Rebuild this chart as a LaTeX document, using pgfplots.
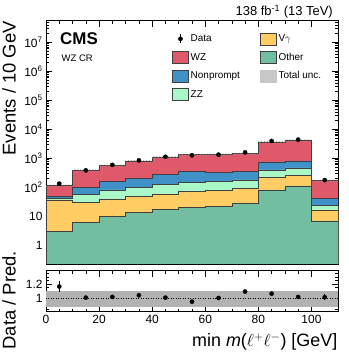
\documentclass[border=0pt]{standalone}
\usepackage{fontspec}
\setmainfont{Liberation Sans}
\usepackage{pgfplots}
\pgfplotsset{compat=1.18}
\usetikzlibrary{patterns}
\definecolor{cwz}{RGB}{224,89,106}
\definecolor{cnp}{RGB}{64,145,200}
\definecolor{czz}{RGB}{170,248,200}
\definecolor{cvg}{RGB}{255,205,100}
\definecolor{coth}{RGB}{114,190,160}
\pgfplotsset{
  boxleg/.style={legend image code/.code={\draw[##1] (0pt,-6pt) rectangle (16pt,6pt);}},
  uncleg/.style={legend image code/.code={\fill[black!22] (0pt,-6pt) rectangle (16pt,6pt);}},
  dataleg/.style={legend image code/.code={\draw[black,line width=0.6pt] (8pt,-4.5pt)--(8pt,4.5pt); \fill[black] (8pt,0pt) circle (2.1pt); \fill[white,opacity=0] (0pt,-6pt) rectangle (16pt,6pt);}},
  cmsaxis/.style={
    scale only axis, width=292bp, xmin=0, xmax=110,
    tick align=inside, xtick pos=both, ytick pos=both,
    major tick length=6bp, minor tick length=3bp,
    every tick/.style={black, line width=0.5pt},
    axis line style={line width=0.8pt},
    tick label style={font=\fontsize{12}{14}\selectfont},
    /pgf/number format/assume math mode=true,
    xtick={0,20,...,100}, minor x tick num=3,
  }
}
\begin{document}
\begin{tikzpicture}
\path[use as bounding box] (0bp,0bp) rectangle (349bp,352bp);
\begin{axis}[cmsaxis, at={(46bp,88bp)}, anchor=south west,
  height=243.3bp, ymode=log, ymin=0.226, ymax=5.56e7,
  xticklabels={},
  ytick={1,10,100,1000,10000,100000,1000000,10000000},
  yticklabels={1,10,10\textsuperscript{2},10\textsuperscript{3},10\textsuperscript{4},10\textsuperscript{5},10\textsuperscript{6},10\textsuperscript{7}},
  minor ytick={0.3,0.4,0.5,0.6,0.7,0.8,0.9,2,3,4,5,6,7,8,9,20,30,40,50,60,70,80,90,200,300,400,500,600,700,800,900,2000,3000,4000,5000,6000,7000,8000,9000,20000,30000,40000,50000,60000,70000,80000,90000,200000,300000,400000,500000,600000,700000,800000,900000,2000000,3000000,4000000,5000000,6000000,7000000,8000000,9000000,20000000,30000000,40000000,50000000},
  legend columns=2,
  legend cell align=left,
  legend style={at={(0.4315,0.952)}, anchor=north west, draw=none, fill=none,
    inner sep=0pt, row sep=6pt, font=\fontsize{10}{12}\selectfont,
    /tikz/every even column/.append style={column sep=18bp}},
]
% stacked histogram (cumulative tops)
\addplot[const plot, fill=cwz, draw=black!75, line width=0.6pt, forget plot] coordinates {(0,0.1)(0,113)(10,375)(20,580)(30,815)(40,1115)(50,1320)(60,1330)(70,1460)(80,3700)(90,4250)(100,175)(110,175)(110,0.1)};
\addplot[const plot, fill=cnp, draw=black!75, line width=0.6pt, forget plot] coordinates {(0,0.1)(0,47.5)(10,99.8)(20,160.6)(30,198.5)(40,280)(50,346)(60,320)(70,346)(80,745)(90,807)(100,40.5)(110,40.5)(110,0.1)};
\addplot[const plot, fill=czz, draw=black!75, line width=0.6pt, forget plot] coordinates {(0,0.1)(0,40.5)(10,57.2)(20,80.7)(30,99.8)(40,126.5)(50,152)(60,156)(70,178.5)(80,395)(90,463)(100,23.9)(110,23.9)(110,0.1)};
\addplot[const plot, fill=cvg, draw=black!75, line width=0.6pt, forget plot] coordinates {(0,0.1)(0,36.5)(10,30.3)(20,39.5)(30,47.5)(40,58.7)(50,72.6)(60,78.6)(70,89.7)(80,215)(90,259)(100,16.5)(110,16.5)(110,0.1)};
\addplot[const plot, fill=coth, draw=black!75, line width=0.6pt, forget plot] coordinates {(0,0.1)(0,3.1)(10,6.2)(20,9.7)(30,13.7)(40,17.4)(50,19.8)(60,21.5)(70,28)(80,80.7)(90,111)(100,6.9)(110,6.9)(110,0.1)};
% total uncertainty band (upper edge, then lower edge back)
\addplot[pattern=crosshatch dots, pattern color=black!45, draw=none, forget plot] coordinates {(0,124.3)(10,124.3)(10,412.5)(20,412.5)(20,638)(30,638)(30,896.5)(40,896.5)(40,1226.5)(50,1226.5)(50,1452)(60,1452)(60,1463)(70,1463)(70,1606)(80,1606)(80,4070)(90,4070)(90,4675)(100,4675)(100,192.5)(110,192.5)
 (110,154)(100,154)(100,3740)(90,3740)(90,3256)(80,3256)(80,1284.8)(70,1284.8)(70,1170.4)(60,1170.4)(60,1161.6)(50,1161.6)(50,981.2)(40,981.2)(40,717.2)(30,717.2)(30,510.4)(20,510.4)(20,330)(10,330)(10,99.4)(0,99.4)};
% data
\addplot[only marks, mark=*, mark size=2.1pt, black, forget plot,
  error bars/.cd, y dir=both, y explicit, error bar style={line width=0.6pt}, error mark=none]
  coordinates {(5,133)+-(0,11.5) (15,382)+-(0,19.5) (25,592)+-(0,24) (35,848)+-(0,29) (45,1125)+-(0,33.5) (55,1265)+-(0,35.6) (65,1335)+-(0,36.5) (75,1600)+-(0,40) (85,3950)+-(0,63) (95,4400)+-(0,66) (105,177)+-(0,13)};
% legend
\addlegendimage{dataleg}\addlegendentry{Data}
\addlegendimage{boxleg, fill=cvg, draw=black!75, line width=0.6pt}\addlegendentry{V$\gamma$}
\addlegendimage{boxleg, fill=cwz, draw=black!75, line width=0.6pt}\addlegendentry{WZ}
\addlegendimage{boxleg, fill=coth, draw=black!75, line width=0.6pt}\addlegendentry{Other}
\addlegendimage{boxleg, fill=cnp, draw=black!75, line width=0.6pt}\addlegendentry{Nonprompt}
\addlegendimage{uncleg}\addlegendentry{Total unc.}
\addlegendimage{boxleg, fill=czz, draw=black!75, line width=0.6pt}\addlegendentry{ZZ}
\end{axis}
\begin{axis}[cmsaxis, at={(46bp,40.3bp)}, anchor=south west,
  height=41bp, ymin=0.81, ymax=1.39,
  ytick={1,1.2}, yticklabels={1,1.2},
  minor ytick={0.85,0.9,0.95,1.05,1.1,1.15,1.25,1.3,1.35},
]
\addplot[fill=black!30, draw=none] coordinates {(0,0.88)(110,0.88)(110,1.10)(0,1.10)};
\addplot[black, dotted, line width=0.5pt] coordinates {(0,1)(110,1)};
\addplot[only marks, mark=*, mark size=2.1pt, black,
  error bars/.cd, y dir=both, y explicit, error bar style={line width=0.6pt}, error mark=none]
  coordinates {(5,1.166)+-(0,0.083) (15,1.009)+-(0,0.02) (25,1.019)+-(0,0.016) (35,1.042)+-(0,0.014) (45,1.009)+-(0,0.012) (55,0.952)+-(0,0.012) (65,1.004)+-(0,0.012) (75,1.095)+-(0,0.012) (85,1.066)+-(0,0.008) (95,1.019)+-(0,0.008) (105,1.014)+-(0,0.045)};
\end{axis}
\node[anchor=base east, font=\fontsize{13}{15}\selectfont, inner sep=0pt] at (333bp,336bp) {138 fb\textsuperscript{-1} (13 TeV)};
\node[anchor=base west, font=\fontsize{17}{19}\selectfont\bfseries, inner sep=0pt] at (60bp,307bp) {CMS};
\node[anchor=base west, font=\fontsize{9.5}{11}\selectfont, inner sep=0pt] at (61.5bp,290bp) {WZ CR};
\node[anchor=base east, rotate=90, font=\fontsize{18.5}{20}\selectfont, inner sep=0pt] at (15.5bp,331bp) {Events / 10 GeV};
\node[anchor=base east, rotate=90, font=\fontsize{18.5}{20}\selectfont, inner sep=0pt] at (15.5bp,101bp) {Data / Pred.};
\node[anchor=base east, font=\fontsize{18}{20}\selectfont, inner sep=0pt] at (337.5bp,5.5bp) {min \textit{m}($\ell^{+}\ell^{-}$) [GeV]};
\end{tikzpicture}
\end{document}
